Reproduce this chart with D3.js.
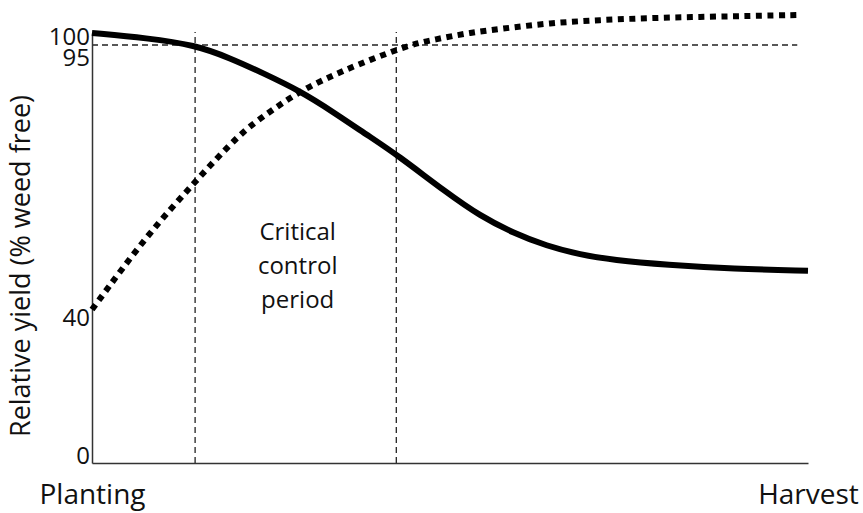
<!DOCTYPE html>
<html>
<head>
<meta charset="utf-8">
<script src="https://cdn.jsdelivr.net/npm/d3@7"></script>
<style>
  html, body { margin: 0; padding: 0; background: #fff; }
  svg { display: block; }
  text { font-family: "Open Sans", "DejaVu Sans", sans-serif; fill: #111; }
</style>
</head>
<body>
<svg id="chart" width="863" height="513"></svg>
<script>
// ---- data (time as % of season from planting to harvest, yield in % weed free) ----
const xLabels = ["Planting", "Harvest"];
const yTickValues = [0, 40, 95, 100];
const yTitle = "Relative yield (% weed free)";
const periodLabel = ["Critical", "control", "period"];
const criticalStart = 14.4;
const criticalEnd = 42.5;
const threshold = 95;

// yield when weeds are allowed to remain for a given duration (solid)
const weedyTime  = [0, 7.7, 14.4, 19.3, 23.9, 29.1, 33.7, 38.8, 42.5, 49.6, 54.2, 58.8, 63.5, 68.2, 72.8, 80.3, 89.5, 100];
const weedyYield = [100, 97.9, 95, 92.3, 89.2, 85.5, 81.2, 76.1, 72.5, 64.5, 59.8, 56.3, 53.6, 51.8, 50.7, 49.7, 48.9, 48.5];

// yield when the crop is kept weed free for a given duration (dotted)
const weedFreeTime  = [0, 7.7, 14.4, 20.7, 24.6, 28.6, 32.8, 37.0, 42.5, 45.4, 47.6, 52.4, 57.0, 64.0, 70.9, 77.9, 84.9, 91.9, 98.5];
const weedFreeYield = [40.5, 55.9, 66.8, 76.9, 81.0, 85.1, 88.2, 90.9, 94.0, 95.8, 97.1, 100, 101.7, 104.2, 105.4, 106.25, 106.7, 107.1, 107.5];

// ---- chart ----
const svg = d3.select("#chart");
const x = d3.scaleLinear().domain([0, 100]).range([92, 808]);
// schematic, piecewise y axis as drawn in the original figure
const y = d3.scaleLinear().domain([0, 40, 95, 100]).range([463, 312, 45, 33]);

const line = d3.line()
  .x(d => x(d[0]))
  .y(d => y(d[1]))
  .curve(d3.curveBasis);

// reference dashed lines
const dashStyle = sel => sel.attr("stroke", "#222").attr("stroke-width", 1.3).attr("stroke-dasharray", "6,4").attr("fill", "none");

svg.append("line")
  .attr("x1", x(0)).attr("x2", x(98.5))
  .attr("y1", y(threshold)).attr("y2", y(threshold))
  .call(dashStyle);

[criticalStart, criticalEnd].forEach(t => {
  svg.append("line")
    .attr("x1", x(t)).attr("x2", x(t))
    .attr("y1", y(0)).attr("y2", y(100.4))
    .call(dashStyle);
});

// axes
const yAxis = d3.axisLeft(y).tickValues(yTickValues).tickSize(0).tickPadding(2).tickFormat(d3.format("d"));
const gy = svg.append("g").attr("transform", `translate(${x(0)},0)`).call(yAxis);
gy.select(".domain").attr("stroke", "#333").attr("stroke-width", 1.5);
const labelDy = {0: 0, 40: 13, 95: 20, 100: 11};
gy.selectAll(".tick text")
  .attr("font-family", "'Open Sans', sans-serif")
  .attr("font-size", 24)
  .attr("fill", "#111")
  .attr("dy", d => labelDy[d]);

const xAxis = d3.axisBottom(x).tickValues([0, 100]).tickSize(0).tickPadding(0).tickFormat((d, i) => xLabels[i]);
const gx = svg.append("g").attr("transform", `translate(0,${y(0)})`).call(xAxis);
gx.select(".domain").attr("stroke", "#333").attr("stroke-width", 1.5);
gx.selectAll(".tick text")
  .attr("font-family", "'Open Sans', sans-serif")
  .attr("font-size", 28)
  .attr("fill", "#111")
  .attr("y", 0)
  .attr("dy", 41);

// curves
svg.append("path")
  .datum(weedyTime.map((t, i) => [t, weedyYield[i]]))
  .attr("d", line)
  .attr("fill", "none")
  .attr("stroke", "#000")
  .attr("stroke-width", 6);

svg.append("path")
  .datum(weedFreeTime.map((t, i) => [t, weedFreeYield[i]]))
  .attr("d", line)
  .attr("fill", "none")
  .attr("stroke", "#000")
  .attr("stroke-width", 6)
  .attr("stroke-dasharray", "6,5.5");

// y title
svg.append("text")
  .attr("transform", `translate(30,266) rotate(-90)`)
  .attr("text-anchor", "middle")
  .attr("font-size", 27)
  .text(yTitle);

// period label
svg.append("g").selectAll("text")
  .data(periodLabel)
  .join("text")
  .attr("x", x((criticalStart + criticalEnd) / 2) + 2)
  .attr("y", (d, i) => 240 + i * 34)
  .attr("text-anchor", "middle")
  .attr("font-size", 24)
  .text(d => d);
</script>
</body>
</html>
